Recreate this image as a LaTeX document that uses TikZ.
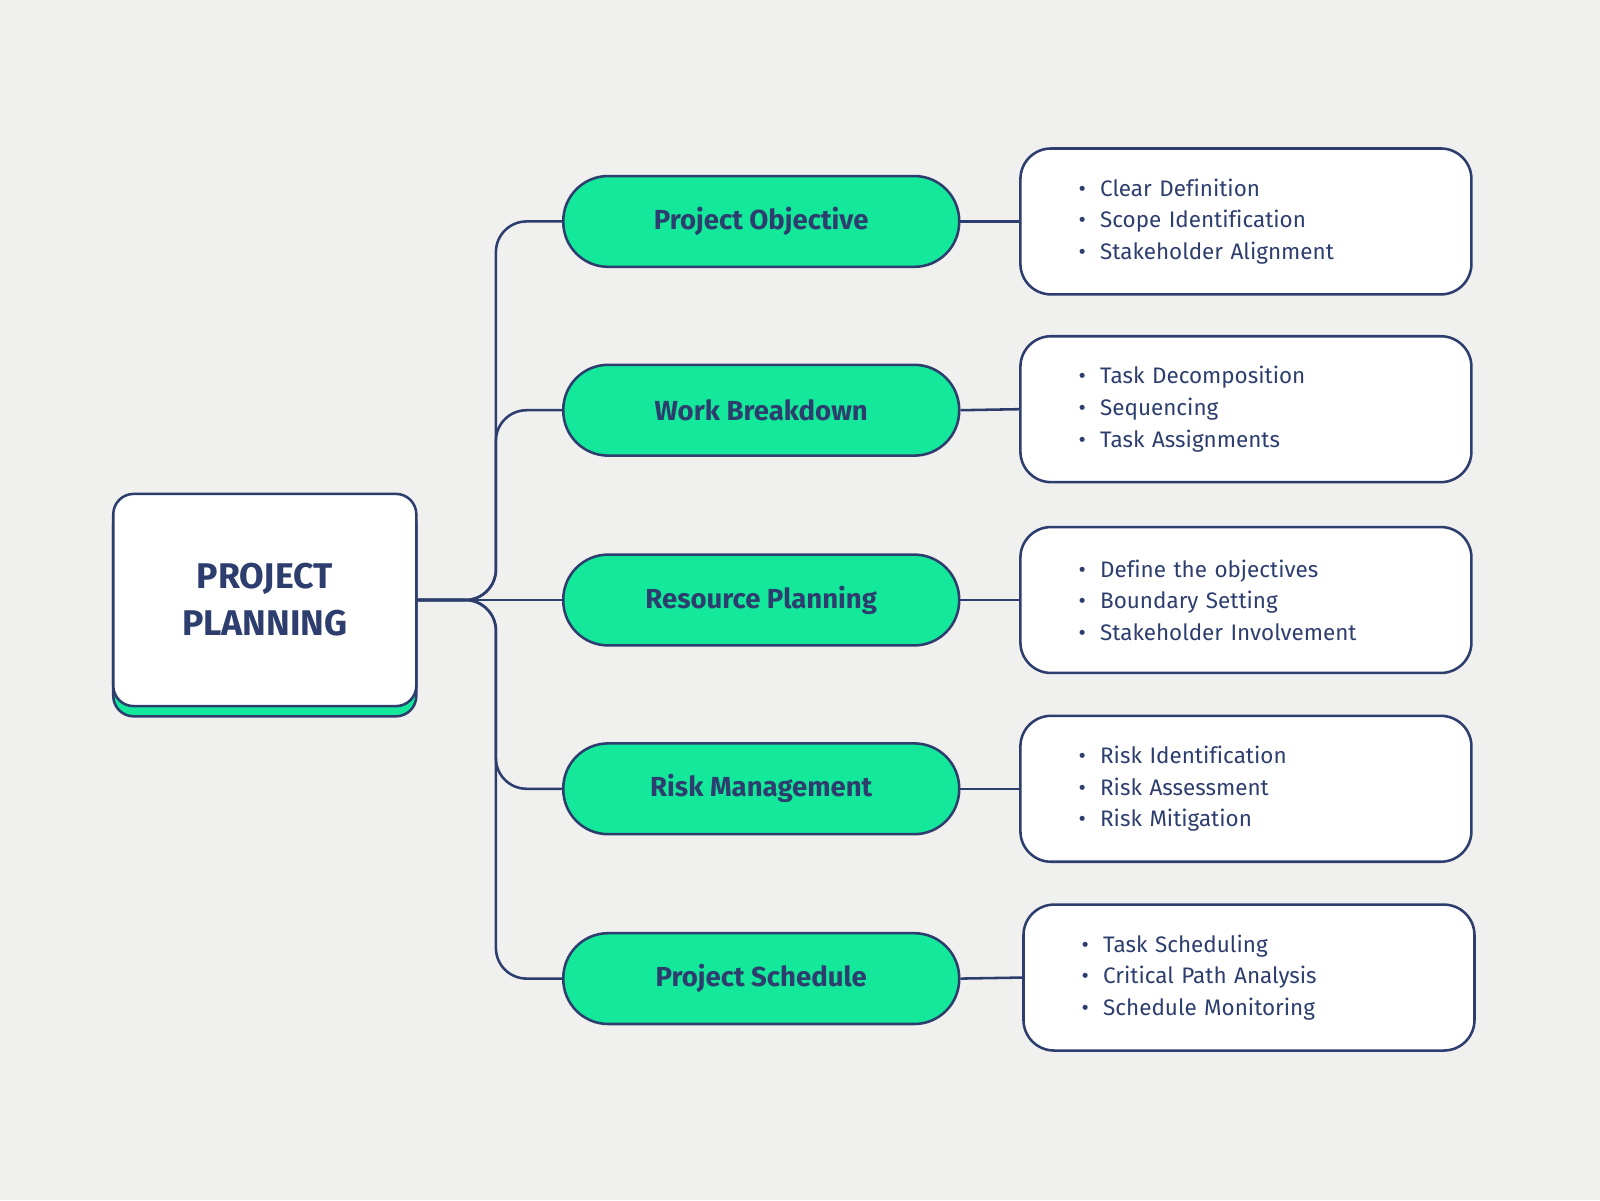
\documentclass[tikz,border=0pt]{standalone}
\usepackage{fontspec}
\setmainfont{Fira Sans}[Ligatures=NoCommon]
\definecolor{bg}{HTML}{F0F0EE}
\definecolor{dk}{HTML}{2D3E6E}
\definecolor{gr}{HTML}{14E89A}
\begin{document}
\begin{tikzpicture}[x=1pt,y=-1pt,
  pill/.style={draw=dk,line width=2.5pt,fill=gr,rounded corners=44pt,minimum width=388pt,minimum height=89pt,text=dk,font=\fontsize{27}{32}\selectfont\bfseries},
  info/.style={draw=dk,line width=2.5pt,fill=white,rounded corners=30pt,minimum width=442pt,minimum height=143pt,text=dk,font=\fontsize{22}{31}\selectfont,align=left,text width=328pt,inner xsep=57pt},
  conn/.style={draw=dk,line width=2.5pt}]
\fill[bg] (0,0) rectangle (1568,1176);
\useasboundingbox (0,0) rectangle (1568,1176);
\fill[gr,draw=dk,line width=2.5pt,rounded corners=20pt] (111,494) rectangle (408,702);
\node[draw=dk,line width=2.5pt,fill=white,rounded corners=20pt,minimum width=297pt,minimum height=208pt,text=dk,align=center,font=\fontsize{35}{46}\selectfont\bfseries] (c) at (259.5,588) {PROJECT\\PLANNING};
\node[pill] (p1) at (746,217) {Project Objective};
\node[pill] (p2) at (746,402) {Work Breakdown};
\node[pill] (p3) at (746,588) {Resource Planning};
\node[pill] (p4) at (746,773) {Risk Management};
\node[pill] (p5) at (746,959) {Project Schedule};
\newcommand{\bl}{\textbullet\hspace{14pt}}
\node[info] (b1) at (1221,217) {\bl Clear Definition\\\bl Scope Identification\\\bl Stakeholder Alignment};
\node[info] (b2) at (1221,401) {\bl Task Decomposition\\\bl Sequencing\\\bl Task Assignments};
\node[info] (b3) at (1221,588) {\bl Define the objectives\\\bl Boundary Setting\\\bl Stakeholder Involvement};
\node[info] (b4) at (1221,773) {\bl Risk Identification\\\bl Risk Assessment\\\bl Risk Mitigation};
\node[info] (b5) at (1224,958) {\bl Task Scheduling\\\bl Critical Path Analysis\\\bl Schedule Monitoring};
\foreach \i in {1,2,4,5}{\draw[conn,rounded corners=30pt] (c.east) -- (486,588) |- (p\i.west);}
\draw[conn] (c.east) -- (p3.west);
\foreach \i in {1,...,5}{\draw[conn] (p\i.east) -- (b\i.west);}
\end{tikzpicture}
\end{document}
